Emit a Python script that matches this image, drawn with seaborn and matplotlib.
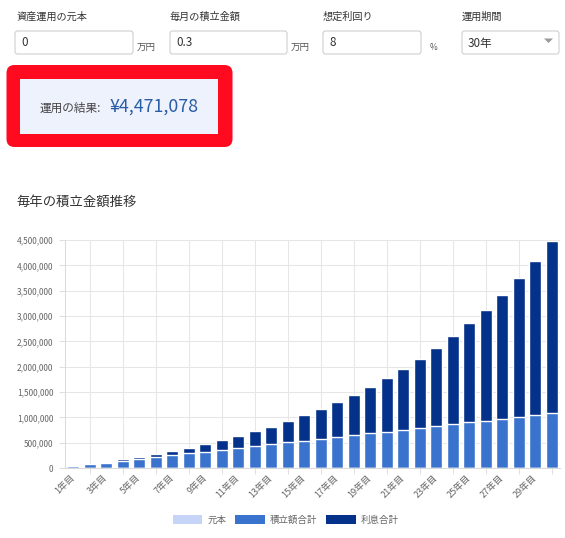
import numpy as np
import matplotlib
matplotlib.use("Agg")
import matplotlib.pyplot as plt
import seaborn as sns
from matplotlib.patches import FancyBboxPatch, Rectangle, Polygon

# ---------------- data ----------------
years = [f"{i}年目" for i in range(1, 31)]
principal = [0, 0, 0, 0, 0, 0, 0, 0, 0, 0,
             0, 0, 0, 0, 0, 0, 0, 0, 0, 0,
             0, 0, 0, 0, 0, 0, 0, 0, 0, 0]
accumulated = [36000, 72000, 108000, 144000, 180000, 216000, 252000, 288000, 324000, 360000,
               396000, 432000, 468000, 504000, 540000, 576000, 612000, 648000, 684000, 720000,
               756000, 792000, 828000, 864000, 900000, 936000, 972000, 1008000, 1044000, 1080000]
interest = [1350, 5800, 13600, 25100, 40400, 60100, 84300, 113600, 148300, 188800,
            235700, 289500, 350800, 420100, 498100, 585600, 683400, 792300, 913100, 1047100,
            1195100, 1358400, 1538200, 1735900, 1953100, 2191200, 2452100, 2737700, 3049900, 3391100]
series_names = ["元本", "積立額合計", "利息合計"]
series_colors = ["#C6D4F8", "#3A73CE", "#04318A"]
yticks = [0, 500000, 1000000, 1500000, 2000000, 2500000, 3000000, 3500000, 4000000, 4500000]

form_labels = ["資産運用の元本", "毎月の積立金額", "想定利回り", "運用期間"]
form_values = ["0", "0.3", "8", "30年"]
form_units = ["万円", "万円", "%", ""]
result_label = "運用の結果:"
result_value = "¥4,471,078"
chart_title = "毎年の積立金額推移"

# ---------------- style ----------------
sns.set_theme(style="white")
plt.rcParams["font.family"] = ["Noto Sans CJK JP", "DejaVu Sans"]

W, H = 565, 538
fig = plt.figure(figsize=(W / 100, H / 100), dpi=100)

# UI layer in pixel coordinates
ui = fig.add_axes([0, 0, 1, 1], zorder=0)
ui.set_xlim(0, W)
ui.set_ylim(H, 0)
ui.axis("off")

label_x = [16, 170, 323, 462]
box_x = [(15, 133), (170, 287), (323, 421), (462, 559)]
unit_x = [137, 291, 430, None]
for i in range(4):
    ui.text(label_x[i], 17, form_labels[i], fontsize=7.3, color="#333333", va="center", ha="left")
    x0, x1 = box_x[i]
    ui.add_patch(FancyBboxPatch((x0, 31), x1 - x0, 23,
                                boxstyle="round,pad=0,rounding_size=2.5",
                                fc="white", ec="#CFCFCF", lw=0.8))
    ui.text(x0 + 6, 43, form_values[i], fontsize=8.4, color="#333333", va="center", ha="left")
    if unit_x[i] is not None:
        ui.text(unit_x[i], 47.5, form_units[i], fontsize=6.8 if form_units[i] != "%" else 6.0,
                color="#555555", va="center", ha="left")
ui.add_patch(Polygon([(544, 38.5), (553, 38.5), (548.5, 43)], closed=True, fc="#9A9A9A", ec="none"))

# result box
ui.add_patch(FancyBboxPatch((6.5, 65), 226, 82, boxstyle="round,pad=0,rounding_size=8",
                            fc="#FF0A1E", ec="none"))
ui.add_patch(Rectangle((20, 79), 198, 55, fc="#EEF2FD", ec="none"))
ui.text(40, 108, result_label, fontsize=8.4, color="#444444", va="center", ha="left")
ui.text(110, 107, result_value, fontsize=12.8, color="#2A5DA6", va="center", ha="left")

# chart title
ui.text(16, 202, chart_title, fontsize=9.6, color="#333333", va="center", ha="left")

# ---------------- chart ----------------
ax = fig.add_axes([65 / W, 1 - 468 / H, (560 - 65) / W, (468 - 240) / H], zorder=1)

p = np.array(principal)
a = np.array(accumulated)
it = np.array(interest)
stack_tops = [p, p + a, p + a + it]
for vals, col in zip(stack_tops[::-1], series_colors[::-1]):
    sns.barplot(x=years, y=vals, color=col, saturation=1, width=0.7, ax=ax, order=years)

ax.set_xlim(-0.5, 29.5)
ax.set_ylim(0, 4500000)
ax.set_yticks(yticks)
ax.set_yticklabels([f"{v:,}" for v in yticks])
ax.set_xticks(np.arange(0, 30, 2))
ax.set_xticklabels(years[0::2], rotation=45, ha="right", va="center", rotation_mode="anchor")
ax.set_xticks(np.arange(1, 30, 2), minor=True)
ax.set_xlabel("")
ax.set_ylabel("")

ax.grid(False)
ax.yaxis.grid(True, color="#E6E6E6", lw=0.75)
ax.xaxis.grid(True, which="minor", color="#E6E6E6", lw=0.75)
ax.set_axisbelow(True)
for s in ["top", "right"]:
    ax.spines[s].set_visible(False)
for s in ["left", "bottom"]:
    ax.spines[s].set_color("#DADADA")
    ax.spines[s].set_linewidth(0.75)

ax.tick_params(axis="y", length=4.3, width=0.75, color="#E0E0E0", pad=4, labelsize=6.0, labelcolor="#666666", left=True)
ax.tick_params(axis="x", which="major", length=0, pad=6, labelsize=6.6, labelcolor="#666666")
ax.tick_params(axis="x", which="minor", length=4, width=0.75, color="#E0E0E0", bottom=True)

handles = [Rectangle((0, 0), 1, 1, fc=c, ec="none") for c in series_colors]
fig.legend(handles, series_names, loc="center", bbox_to_anchor=(286 / W, 1 - 520 / H),
           ncol=3, frameon=False, fontsize=6.8, handlelength=3.1, handleheight=1.0,
           handletextpad=0.6, columnspacing=0.9, labelcolor="#666666")

fig.savefig("out.png", dpi=100)
